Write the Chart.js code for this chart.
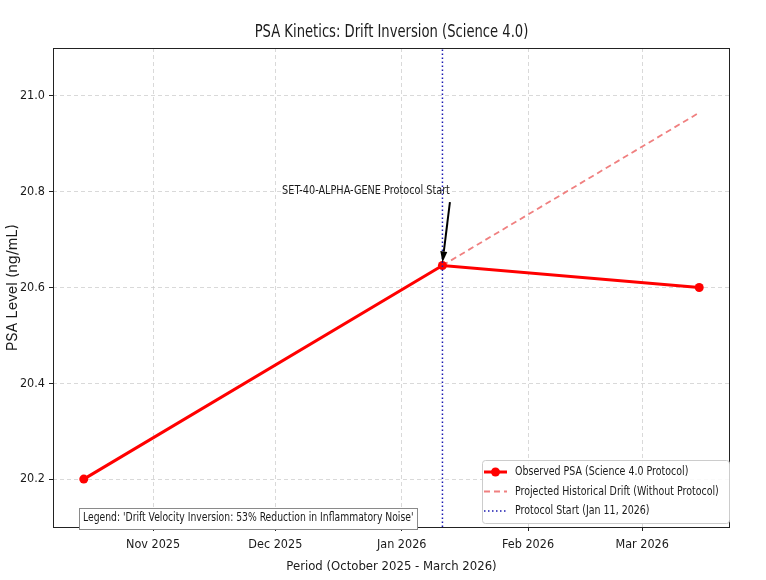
<!DOCTYPE html>
<html>
<head>
<meta charset="utf-8">
<title>PSA Kinetics: Drift Inversion</title>
<script src="https://cdn.jsdelivr.net/npm/chart.js@4.4.1/dist/chart.umd.min.js"></script>
<style>
    html, body { margin: 0; padding: 0; background: #fff; }
    #wrap { width: 766px; height: 580px; }
</style>
</head>
<body>
<div id="wrap"><canvas id="psa-canvas" width="766" height="580"></canvas></div>
<script>
// data
var observedDates = ['2025-10-15', '2026-01-11', '2026-03-15'];
var observedPsa = [20.2, 20.646, 20.6];
var driftDates = ['2026-01-11', '2026-03-15'];
var driftPsa = [20.646, 20.965];
var protocolDate = '2026-01-11';
var yRange = [20.1, 21.1];
var yTicks = [20.2, 20.4, 20.6, 20.8, 21.0];
var xTickDates = ['2025-11-01', '2025-12-01', '2026-01-01', '2026-02-01', '2026-03-01'];
var xTickLabels = ['Nov 2025', 'Dec 2025', 'Jan 2026', 'Feb 2026', 'Mar 2026'];
var legendLabels = [
    'Observed PSA (Science 4.0 Protocol)',
    'Projected Historical Drift (Without Protocol)',
    'Protocol Start (Jan 11, 2026)'
];
var annotText = 'SET-40-ALPHA-GENE Protocol Start';
var annotTextAt = ['2026-01-12T20:00:00', 20.803];
var annotArrowFrom = ['2026-01-12T20:00:00', 20.778];
var noteText = "Legend: 'Drift Velocity Inversion: 53% Reduction in Inflammatory Noise'";

var FONT = "'DejaVu Sans Condensed', 'Liberation Sans', sans-serif";
var YTITLE_FONT = "Inter, 'Noto Sans', sans-serif";

function toMs(s) {
    return new Date(s.length === 10 ? s + 'T00:00:00Z' : s + 'Z').getTime();
}

function points(dates, values) {
    return dates.map(function (d, i) {
        return { x: toMs(d), y: values[i] };
    });
}

// narrower glyphs, like the condensed face of the original
function squeezeText(ctx, text, x, y, align, sx) {
    ctx.save();
    ctx.translate(x, y);
    ctx.scale(sx, 1);
    ctx.textAlign = align;
    ctx.textBaseline = 'middle';
    ctx.fillText(text, 0, 0);
    ctx.restore();
    return ctx.measureText(text).width * sx;
}

// matplotlib-style 5% margin on the date axis
var firstMs = toMs(observedDates[0]);
var lastMs = toMs(observedDates[observedDates.length - 1]);
var xPad = (lastMs - firstMs) * 0.05;

var colors = {
    observed: '#ff0000',
    drift: '#f08080',
    protocol: '#1a1ab0',
    grid: '#cfcfcf',
    frame: '#222222',
    text: '#1a1a1a'
};

var decorPlugin = {
    id: 'decor',
    beforeDraw: function (chart) {
        var ctx = chart.ctx;
        ctx.save();
        ctx.fillStyle = '#ffffff';
        ctx.fillRect(0, 0, chart.width, chart.height);
        ctx.restore();
    },
    afterDatasetsDraw: function (chart) {
        var ctx = chart.ctx;
        var area = chart.chartArea;
        var xs = chart.scales.x;
        var ys = chart.scales.y;
        ctx.save();

        // frame
        ctx.strokeStyle = colors.frame;
        ctx.lineWidth = 1;
        ctx.strokeRect(Math.round(area.left) + 0.5, Math.round(area.top) + 0.5,
            Math.round(area.right - area.left) - 1, Math.round(area.bottom - area.top));

        // title
        ctx.fillStyle = colors.text;
        ctx.font = '17px ' + FONT;
        squeezeText(ctx, 'PSA Kinetics: Drift Inversion (Science 4.0)', (area.left + area.right) / 2, 33, 'center', 0.86);

        // annotation text + arrow
        ctx.font = '13px ' + FONT;
        squeezeText(ctx, annotText, xs.getPixelForValue(toMs(annotTextAt[0])), ys.getPixelForValue(annotTextAt[1]), 'right', 0.83);
        var ax = xs.getPixelForValue(toMs(annotArrowFrom[0]));
        var ay = ys.getPixelForValue(annotArrowFrom[1]);
        var tx = xs.getPixelForValue(toMs(protocolDate));
        var ty = ys.getPixelForValue(observedPsa[1]) - 3;
        var ang = Math.atan2(ty - ay, tx - ax);
        var headLen = 11, headW = 3.5;
        var bx = tx - headLen * Math.cos(ang);
        var by = ty - headLen * Math.sin(ang);
        ctx.strokeStyle = '#000';
        ctx.lineWidth = 2;
        ctx.beginPath();
        ctx.moveTo(ax, ay);
        ctx.lineTo(bx, by);
        ctx.stroke();
        ctx.fillStyle = '#000';
        ctx.beginPath();
        ctx.moveTo(tx, ty);
        ctx.lineTo(bx + headW * Math.sin(ang), by - headW * Math.cos(ang));
        ctx.lineTo(bx - headW * Math.sin(ang), by + headW * Math.cos(ang));
        ctx.closePath();
        ctx.fill();

        // note box lower left
        ctx.font = '13px ' + FONT;
        var noteSx = 0.79;
        var nw = ctx.measureText(noteText).width * noteSx;
        var nx = area.left + 26, ny = area.bottom - 19;
        ctx.fillStyle = '#ffffff';
        ctx.fillRect(nx, ny, nw + 8, 21);
        ctx.strokeStyle = '#8a8a8a';
        ctx.lineWidth = 1;
        ctx.strokeRect(Math.round(nx) + 0.5, Math.round(ny) + 0.5, Math.round(nw + 8), 21);
        ctx.fillStyle = colors.text;
        squeezeText(ctx, noteText, nx + 4, ny + 10, 'left', noteSx);

        // legend lower right
        var lw = 247, lh = 63;
        var lx = area.right - lw - 1, ly = area.bottom - lh - 4;
        ctx.fillStyle = 'rgba(255,255,255,0.85)';
        ctx.strokeStyle = '#cccccc';
        ctx.beginPath();
        ctx.roundRect(lx + 0.5, ly + 0.5, lw, lh, 3);
        ctx.fill();
        ctx.stroke();
        var rows = [ly + 12, ly + 31.5, ly + 51];
        var sx0 = lx + 2, sx1 = lx + 25;
        chart.data.datasets.forEach(function (ds, i) {
            var yy = rows[i];
            ctx.save();
            ctx.strokeStyle = ds.borderColor;
            ctx.lineWidth = ds.borderWidth;
            ctx.setLineDash(ds.borderDash || []);
            ctx.beginPath();
            ctx.moveTo(sx0, yy);
            ctx.lineTo(sx1, yy);
            ctx.stroke();
            if (ds.pointRadius) {
                ctx.fillStyle = ds.borderColor;
                ctx.beginPath();
                ctx.arc((sx0 + sx1) / 2, yy, ds.pointRadius, 0, Math.PI * 2);
                ctx.fill();
            }
            ctx.restore();
            ctx.fillStyle = colors.text;
            ctx.font = '13px ' + FONT;
            squeezeText(ctx, ds.label, lx + 33, yy, 'left', 0.81);
        });

        ctx.restore();
    }
};

new Chart(document.getElementById('psa-canvas').getContext('2d'), {
    type: 'line',
    data: {
        datasets: [
            {
                label: legendLabels[0],
                data: points(observedDates, observedPsa),
                borderColor: colors.observed,
                backgroundColor: colors.observed,
                borderWidth: 3,
                pointRadius: 4.5,
                pointBorderWidth: 0,
                pointBackgroundColor: colors.observed,
                tension: 0,
                order: 1
            },
            {
                label: legendLabels[1],
                data: points(driftDates, driftPsa),
                borderColor: colors.drift,
                borderWidth: 1.8,
                borderDash: [6, 4],
                pointRadius: 0,
                tension: 0,
                order: 2
            },
            {
                label: legendLabels[2],
                data: [{ x: toMs(protocolDate), y: yRange[0] }, { x: toMs(protocolDate), y: yRange[1] }],
                borderColor: colors.protocol,
                borderWidth: 1.5,
                borderDash: [1.5, 2.5],
                pointRadius: 0,
                order: 0
            }
        ]
    },
    options: {
        responsive: false,
        animation: false,
        devicePixelRatio: 1,
        layout: { padding: { top: 48, right: 36, left: 0, bottom: 0 } },
        plugins: {
            legend: { display: false },
            tooltip: { enabled: false },
            title: { display: false }
        },
        scales: {
            x: {
                type: 'linear',
                min: firstMs - xPad,
                max: lastMs + xPad,
                afterBuildTicks: function (scale) {
                    scale.ticks = xTickDates.map(function (d) {
                        return { value: toMs(d) };
                    });
                },
                afterFit: function (scale) {
                    scale.height = 53;
                },
                ticks: {
                    autoSkip: false,
                    maxRotation: 0,
                    padding: 6,
                    color: colors.text,
                    font: { family: FONT, size: 12.5 },
                    callback: function (value, index) {
                        return xTickLabels[index];
                    }
                },
                grid: {
                    color: colors.grid,
                    lineWidth: 0.8,
                    tickLength: 4,
                    tickColor: colors.frame,
                    tickWidth: 1
                },
                border: { display: false, dash: [4, 3] },
                title: {
                    display: true,
                    text: 'Period (October 2025 - March 2026)',
                    color: colors.text,
                    font: { family: FONT, size: 13 },
                    padding: { top: 0, bottom: 6 }
                }
            },
            y: {
                type: 'linear',
                min: yRange[0],
                max: yRange[1],
                afterBuildTicks: function (scale) {
                    scale.ticks = yTicks.map(function (v) {
                        return { value: v };
                    });
                },
                afterFit: function (scale) {
                    scale.width = 53;
                },
                ticks: {
                    padding: 4,
                    color: colors.text,
                    font: { family: FONT, size: 12.5 },
                    callback: function (value) {
                        return value.toFixed(1);
                    }
                },
                grid: {
                    color: colors.grid,
                    lineWidth: 0.8,
                    tickLength: 4,
                    tickColor: colors.frame,
                    tickWidth: 1
                },
                border: { display: false, dash: [4, 3] },
                title: {
                    display: true,
                    text: 'PSA Level (ng/mL)',
                    color: colors.text,
                    font: { family: YTITLE_FONT, size: 14.5 },
                    padding: { top: 4, bottom: 0 }
                }
            }
        }
    },
    plugins: [decorPlugin]
});
</script>
</body>
</html>
